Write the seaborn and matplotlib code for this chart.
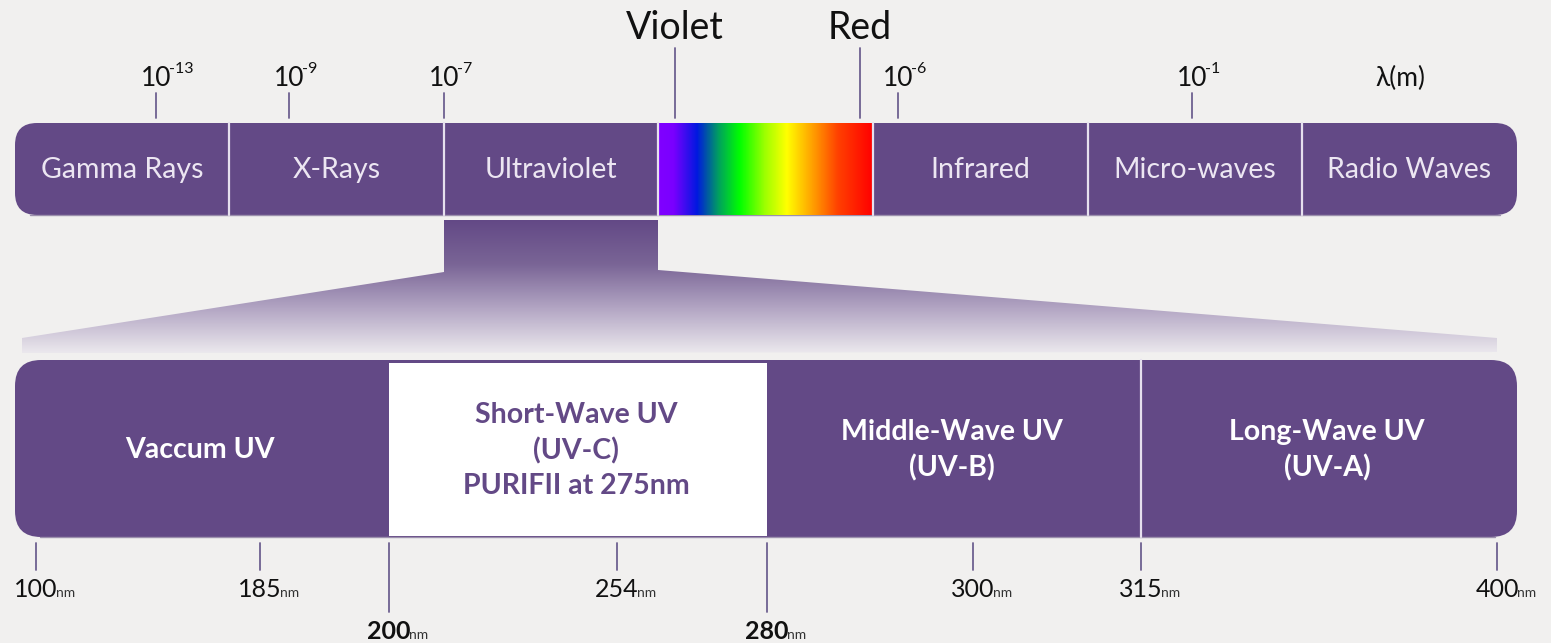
import numpy as np
import matplotlib.pyplot as plt
import seaborn as sns
from matplotlib.patches import FancyBboxPatch, Polygon
from matplotlib.colors import LinearSegmentedColormap

# diagram data (schematic x positions, pixel-like units)
band_names = ['Gamma Rays', 'X-Rays', 'Ultraviolet', '', 'Infrared', 'Micro-waves', 'Radio Waves']
band_edges = [15, 229, 444, 658, 873, 1088, 1302, 1517]

top_tick_x = [156, 289, 444, 898, 1192]
top_tick_exp = ['-13', '-9', '-7', '-6', '-1']

light_names = ['Violet', 'Red']
light_x = [675, 860]

uv_names = ['Vaccum UV', 'Short-Wave UV\n(UV-C)\nPURIFII at 275nm',
            'Middle-Wave UV\n(UV-B)', 'Long-Wave UV\n(UV-A)']
uv_edges = [15, 389, 767, 1141, 1517]

nm_x = [36, 260, 389, 617, 767, 973, 1141, 1497]
nm_labels = ['100', '185', '200', '254', '280', '300', '315', '400']
nm_bold = [False, False, True, False, True, False, False, False]

spectrum_stops = [(0.0, '#8000ff'), (0.07, '#7a00ff'), (0.18, '#0018e0'), (0.28, '#00a060'),
                  (0.38, '#00ff00'), (0.5, '#a0ff00'), (0.6, '#ffff00'), (0.7, '#ffb000'),
                  (0.84, '#ff4000'), (1.0, '#ff0000')]

purple = '#634986'
bg = '#f1f0ef'

sns.set_theme(style='white')
plt.rcParams['font.family'] = ['Lato', 'DejaVu Sans']

fig = plt.figure(figsize=(15.51, 6.43), dpi=100, facecolor=bg)
ax = fig.add_axes([0, 0, 1, 1])
ax.set_facecolor(bg)
ax.set_xlim(0, 1551)
ax.set_ylim(643, 0)
ax.axis('off')

# ---- top bar
top_y0, top_h = 123, 92
lefts = band_edges[:-1]
widths = np.diff(band_edges)
bars = ax.barh(top_y0 + top_h / 2, widths, left=lefts, height=top_h, color=purple, linewidth=0)
clip_top = FancyBboxPatch((15, top_y0), 1502, top_h, boxstyle='round,pad=0,rounding_size=22',
                          transform=ax.transData, facecolor='none', edgecolor='none')
ax.add_patch(clip_top)
for b in bars:
    b.set_clip_path(clip_top)

spec_cmap = LinearSegmentedColormap.from_list('spec', spectrum_stops)
grad = np.linspace(0, 1, 400)[None, :]
ax.imshow(grad, cmap=spec_cmap, aspect='auto',
          extent=[band_edges[3], band_edges[4], top_y0 + top_h, top_y0], zorder=2)

for x in band_edges[1:-1]:
    ax.plot([x, x], [top_y0, top_y0 + top_h], color='#e6e0ee', lw=1.6, zorder=3)
ax.plot([30, 1500], [top_y0 + top_h, top_y0 + top_h], color='#9c90ad', lw=1, zorder=1)

for name, l, w in zip(band_names, lefts, widths):
    if name:
        ax.text(l + w / 2, top_y0 + top_h / 2 + 1, name, ha='center', va='center',
                fontsize=20.5, color='#ece6f2', fontweight='normal', zorder=4)

# top ticks with powers of ten
for x, e in zip(top_tick_x, top_tick_exp):
    ax.plot([x, x], [93, 118], color='#6e6090', lw=1.3)
    ax.text(x, 86, '10', ha='center', va='baseline', fontsize=19, color='#111111')
    ax.text(x + 13, 73, e, ha='left', va='baseline', fontsize=11.5, color='#111111')
ax.text(1400, 86, 'λ(m)', ha='center', va='baseline', fontsize=19, color='#111111')

for name, x in zip(light_names, light_x):
    ax.plot([x, x], [48, 118], color='#6e6090', lw=1.3)
    ax.text(x, 39, name, ha='center', va='baseline', fontsize=27, color='#111111')

# ---- funnel gradient
funnel = Polygon([(444, 220), (658, 220), (658, 270), (1497, 338), (1497, 352),
                  (22, 353), (22, 338), (444, 272)], closed=True, transform=ax.transData,
                 facecolor='none', edgecolor='none')
ax.add_patch(funnel)
fade = LinearSegmentedColormap.from_list('fade', [purple, '#7a6596', '#b3a6c4', '#ebe8ed'])
vgrad = np.linspace(0, 1, 300)[:, None]
img = ax.imshow(vgrad, cmap=fade, aspect='auto', extent=[22, 1497, 353, 220], zorder=1)
img.set_clip_path(funnel)

# ---- bottom bar
bot_y0, bot_h = 360, 177
ulefts = uv_edges[:-1]
uwidths = np.diff(uv_edges)
ucolors = [purple, 'white', purple, purple]
ubars = ax.barh(bot_y0 + bot_h / 2, uwidths, left=ulefts, height=bot_h, color=purple, linewidth=0)
clip_bot = FancyBboxPatch((15, bot_y0), 1502, bot_h, boxstyle='round,pad=0,rounding_size=26',
                          transform=ax.transData, facecolor='none', edgecolor='none')
ax.add_patch(clip_bot)
for b in ubars:
    b.set_clip_path(clip_bot)
ax.barh(bot_y0 + bot_h / 2 + 1, uwidths[1], left=ulefts[1], height=bot_h - 4,
        color=ucolors[1], linewidth=0, zorder=2)
ax.plot([uv_edges[3], uv_edges[3]], [bot_y0, bot_y0 + bot_h], color='#e6e0ee', lw=1.6, zorder=3)
ax.plot([40, 1495], [bot_y0 + bot_h, bot_y0 + bot_h], color='#9c90ad', lw=1, zorder=1)

for name, l, w, c in zip(uv_names, ulefts, uwidths, ucolors):
    tc = purple if c == 'white' else 'white'
    ax.text(l + w / 2 - 2, bot_y0 + bot_h / 2 + 2, name, ha='center', va='center',
            fontsize=20.5, fontweight='bold', color=tc, linespacing=1.42, zorder=4)

# bottom nm ticks
for x, lab, bold in zip(nm_x, nm_labels, nm_bold):
    y1 = 612 if bold else 570
    ax.plot([x, x], [543, y1], color='#6e6090', lw=1.3)
    yb = 639 if bold else 597
    t = ax.text(x, yb, lab, ha='center', va='baseline', fontsize=18, color='#111111',
                fontweight='bold' if bold else 'normal')
    fig.canvas.draw()
    bb = t.get_window_extent()
    xr = ax.transData.inverted().transform((bb.x1, bb.y0))[0]
    ax.text(xr - 2, yb, 'nm', ha='left', va='baseline', fontsize=10, color='#333333')

fig.savefig('out.png', dpi=100, facecolor=bg)
